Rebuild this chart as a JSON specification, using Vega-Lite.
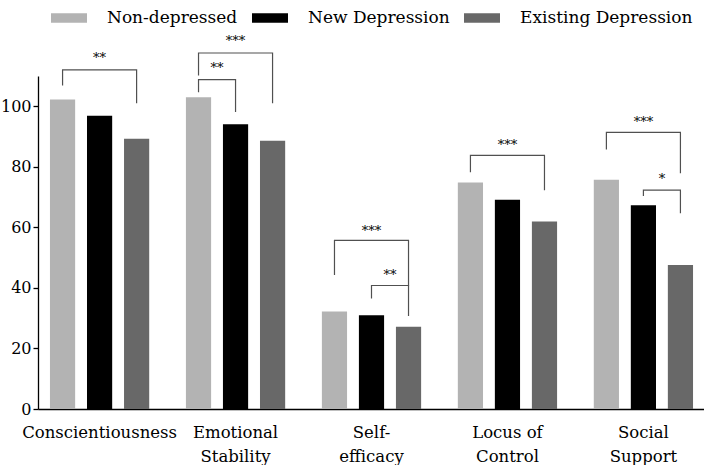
{
  "$schema": "https://vega.github.io/schema/vega-lite/v6.json",
  "width": 667,
  "height": 333,
  "padding": {"left": 0, "top": 0, "right": 0, "bottom": 0},
  "background": "white",
  "config": {
    "view": {"stroke": null},
    "font": "DejaVu Serif",
    "axis": {"grid": false, "domainColor": "black", "tickColor": "black", "labelColor": "black", "labelFont": "DejaVu Serif", "domainWidth": 1.3, "tickWidth": 1.3},
    "legend": {"labelFont": "DejaVu Serif"},
    "text": {"font": "DejaVu Serif"}
  },
  "datasets": {
    "bars": [
      {"trait": "Conscientiousness", "group": "Non-depressed", "value": 102.2},
      {"trait": "Conscientiousness", "group": "New Depression", "value": 96.9},
      {"trait": "Conscientiousness", "group": "Existing Depression", "value": 89.3},
      {"trait": "Emotional Stability", "group": "Non-depressed", "value": 103.0},
      {"trait": "Emotional Stability", "group": "New Depression", "value": 94.1},
      {"trait": "Emotional Stability", "group": "Existing Depression", "value": 88.6},
      {"trait": "Self-efficacy", "group": "Non-depressed", "value": 32.2},
      {"trait": "Self-efficacy", "group": "New Depression", "value": 31.0},
      {"trait": "Self-efficacy", "group": "Existing Depression", "value": 27.2},
      {"trait": "Locus of Control", "group": "Non-depressed", "value": 74.8},
      {"trait": "Locus of Control", "group": "New Depression", "value": 69.1},
      {"trait": "Locus of Control", "group": "Existing Depression", "value": 61.9},
      {"trait": "Social Support", "group": "Non-depressed", "value": 75.7},
      {"trait": "Social Support", "group": "New Depression", "value": 67.3},
      {"trait": "Social Support", "group": "Existing Depression", "value": 47.6}
    ],
    "brackets": [
      {"trait": "Conscientiousness", "id": "c1", "pos": "L", "y": 106.9, "o": 1},
      {"trait": "Conscientiousness", "id": "c1", "pos": "L", "y": 112.0, "o": 2},
      {"trait": "Conscientiousness", "id": "c1", "pos": "D", "y": 112.0, "o": 3},
      {"trait": "Conscientiousness", "id": "c1", "pos": "D", "y": 101.0, "o": 4},
      {"trait": "Emotional Stability", "id": "e1", "pos": "L", "y": 110.2, "o": 1},
      {"trait": "Emotional Stability", "id": "e1", "pos": "L", "y": 117.6, "o": 2},
      {"trait": "Emotional Stability", "id": "e1", "pos": "D", "y": 117.6, "o": 3},
      {"trait": "Emotional Stability", "id": "e1", "pos": "D", "y": 101.0, "o": 4},
      {"trait": "Emotional Stability", "id": "e2", "pos": "L", "y": 104.6, "o": 1},
      {"trait": "Emotional Stability", "id": "e2", "pos": "L", "y": 108.8, "o": 2},
      {"trait": "Emotional Stability", "id": "e2", "pos": "B", "y": 108.8, "o": 3},
      {"trait": "Emotional Stability", "id": "e2", "pos": "B", "y": 98.1, "o": 4},
      {"trait": "Self-efficacy", "id": "s1", "pos": "L", "y": 44.3, "o": 1},
      {"trait": "Self-efficacy", "id": "s1", "pos": "L", "y": 55.7, "o": 2},
      {"trait": "Self-efficacy", "id": "s1", "pos": "D", "y": 55.7, "o": 3},
      {"trait": "Self-efficacy", "id": "s1", "pos": "D", "y": 40.7, "o": 4},
      {"trait": "Self-efficacy", "id": "s2", "pos": "B", "y": 36.5, "o": 1},
      {"trait": "Self-efficacy", "id": "s2", "pos": "B", "y": 40.8, "o": 2},
      {"trait": "Self-efficacy", "id": "s2", "pos": "D", "y": 40.8, "o": 3},
      {"trait": "Self-efficacy", "id": "s2", "pos": "D", "y": 30.7, "o": 4},
      {"trait": "Locus of Control", "id": "l1", "pos": "L", "y": 78.2, "o": 1},
      {"trait": "Locus of Control", "id": "l1", "pos": "L", "y": 83.8, "o": 2},
      {"trait": "Locus of Control", "id": "l1", "pos": "D", "y": 83.8, "o": 3},
      {"trait": "Locus of Control", "id": "l1", "pos": "D", "y": 72.3, "o": 4},
      {"trait": "Social Support", "id": "o1", "pos": "L", "y": 85.7, "o": 1},
      {"trait": "Social Support", "id": "o1", "pos": "L", "y": 91.4, "o": 2},
      {"trait": "Social Support", "id": "o1", "pos": "D", "y": 91.4, "o": 3},
      {"trait": "Social Support", "id": "o1", "pos": "D", "y": 77.9, "o": 4},
      {"trait": "Social Support", "id": "o2", "pos": "B", "y": 70.4, "o": 1},
      {"trait": "Social Support", "id": "o2", "pos": "B", "y": 72.3, "o": 2},
      {"trait": "Social Support", "id": "o2", "pos": "D", "y": 72.3, "o": 3},
      {"trait": "Social Support", "id": "o2", "pos": "D", "y": 64.7, "o": 4}
    ],
    "stars": [
      {"trait": "Conscientiousness", "pos": "B", "y": 114.6, "label": "**"},
      {"trait": "Emotional Stability", "pos": "B", "y": 120.1, "label": "***"},
      {"trait": "Emotional Stability", "pos": "LB", "y": 111.3, "label": "**"},
      {"trait": "Self-efficacy", "pos": "B", "y": 57.6, "label": "***"},
      {"trait": "Self-efficacy", "pos": "BD", "y": 42.9, "label": "**"},
      {"trait": "Locus of Control", "pos": "B", "y": 85.8, "label": "***"},
      {"trait": "Social Support", "pos": "B", "y": 93.5, "label": "***"},
      {"trait": "Social Support", "pos": "BD", "y": 74.8, "label": "*"}
    ]
  },
  "encoding": {
    "x": {
      "field": "trait", "type": "nominal",
      "sort": ["Conscientiousness", "Emotional Stability", "Self-efficacy", "Locus of Control", "Social Support"],
      "scale": {"paddingInner": 0.27, "paddingOuter": 0.088},
      "axis": {
        "title": null, "labelAngle": 0, "ticks": false, "labelFontSize": 16.5, "labelPadding": 15,
        "labelLineHeight": 24, "labelBaseline": "top", "labelLimit": 300,
        "labelExpr": "datum.value == 'Self-efficacy' ? ['Self-', 'efficacy'] : datum.value == 'Locus of Control' ? ['Locus of', 'Control'] : datum.value == 'Conscientiousness' ? datum.value : split(datum.value, ' ')"
      }
    }
  },
  "layer": [
    {
      "data": {"name": "bars"},
      "mark": {"type": "bar"},
      "encoding": {
        "xOffset": {"field": "group", "type": "nominal", "sort": ["Non-depressed", "New Depression", "Existing Depression"], "scale": {"paddingInner": 0.32, "paddingOuter": 0}},
        "y": {"field": "value", "type": "quantitative", "scale": {"domain": [0, 110], "nice": false}, "axis": {"title": null, "values": [0, 20, 40, 60, 80, 100], "labelFontSize": 16, "tickSize": 5, "labelPadding": 2}},
        "color": {
          "field": "group", "type": "nominal",
          "sort": ["Non-depressed", "New Depression", "Existing Depression"],
          "scale": {"domain": ["Non-depressed", "New Depression", "Existing Depression"], "range": ["#b3b3b3", "#000000", "#686868"]},
          "legend": {
            "title": null, "orient": "none", "direction": "horizontal", "legendX": 13, "legendY": -76,
            "labelFontSize": 17, "labelColor": "black", "labelLimit": 400,
            "symbolType": "M-1,-0.26L1,-0.26L1,0.26L-1,0.26Z", "symbolSize": 1296, "symbolStrokeWidth": 0,
            "labelOffset": 20, "columnPadding": 14
          }
        }
      }
    },
    {
      "data": {"name": "brackets"},
      "mark": {"type": "line", "color": "#505050", "strokeWidth": 1.2, "interpolate": "linear"},
      "encoding": {
        "xOffset": {"field": "pos", "type": "nominal", "sort": ["L", "LB", "B", "BD", "D"], "scale": {"type": "point", "domain": ["L", "LB", "B", "BD", "D"], "padding": 0.681}},
        "y": {"field": "y", "type": "quantitative"},
        "detail": {"field": "id"},
        "order": {"field": "o"}
      }
    },
    {
      "data": {"name": "stars"},
      "mark": {"type": "text", "fontSize": 13, "color": "black", "baseline": "alphabetic", "align": "center"},
      "encoding": {
        "xOffset": {"field": "pos", "type": "nominal", "sort": ["L", "LB", "B", "BD", "D"], "scale": {"type": "point", "domain": ["L", "LB", "B", "BD", "D"], "padding": 0.681}},
        "y": {"field": "y", "type": "quantitative"},
        "text": {"field": "label"}
      }
    }
  ],
  "resolve": {"scale": {"xOffset": "independent"}}
}
